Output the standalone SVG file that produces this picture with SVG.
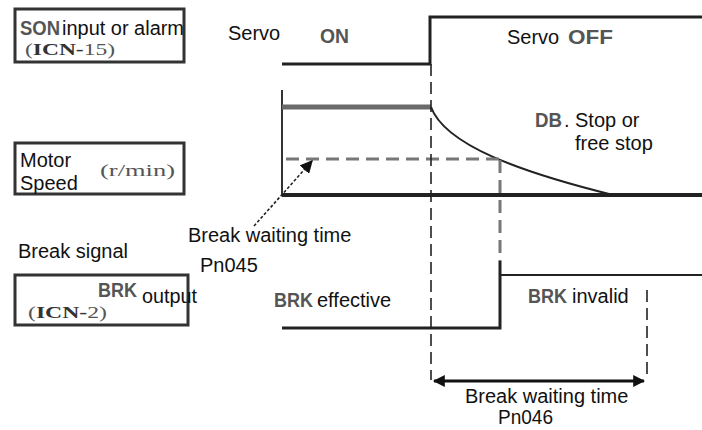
<svg xmlns="http://www.w3.org/2000/svg" width="702" height="430" viewBox="0 0 702 430">
<style>
.s{font-family:"Liberation Sans",Arial,sans-serif;font-size:20px;fill:#111}
.g{font-family:"Liberation Sans",Arial,sans-serif;font-size:20px;fill:#555;font-weight:bold}
.r{font-family:"Liberation Serif","Times New Roman",serif;font-size:16px;fill:#555}
.box{fill:none;stroke:#333;stroke-width:3}
.wave{fill:none;stroke:#222;stroke-width:3}
.thin{fill:none;stroke:#222;stroke-width:2}
.dash{fill:none;stroke:#222;stroke-width:1.6;stroke-dasharray:12 6}
.gdash{fill:none;stroke:#777;stroke-width:3;stroke-dasharray:13 7}
</style>
<defs>
<marker id="ah" viewBox="0 0 10 10" refX="9" refY="5" markerWidth="4" markerHeight="4" orient="auto-start-reverse" markerUnits="strokeWidth">
<path d="M0,0 L10,5 L0,10 z" fill="#111"/>
</marker>
<marker id="ah2" viewBox="0 0 10 10" refX="9" refY="5" markerWidth="8" markerHeight="8" orient="auto" markerUnits="strokeWidth">
<path d="M0,0 L10,5 L0,10 z" fill="#111"/>
</marker>
</defs>
<rect width="702" height="430" fill="#fff"/>

<g id="son-box">
<rect class="box" x="15" y="9" width="169" height="53"/>
<text class="g" x="20" y="35" textLength="40" lengthAdjust="spacingAndGlyphs">SON</text>
<text class="s" x="62" y="35" textLength="122" lengthAdjust="spacingAndGlyphs">input or alarm</text>
<text class="r" x="25" y="55" textLength="90" lengthAdjust="spacingAndGlyphs">(<tspan font-weight="bold" fill="#333">ICN-</tspan>15)</text>
</g>

<g id="speed-box">
<rect class="box" x="15" y="143" width="169" height="51"/>
<text class="s" x="20" y="167">Motor</text>
<text class="s" x="20" y="190">Speed</text>
<text class="r" x="100" y="176" font-size="15" textLength="75" lengthAdjust="spacingAndGlyphs">(r/min)</text>
</g>

<g id="brk-box">
<text class="s" x="18" y="258">Break signal</text>
<rect class="box" x="15" y="275" width="173" height="50"/>
<text class="g" x="98" y="297" textLength="39" lengthAdjust="spacingAndGlyphs">BRK</text>
<text class="s" x="142" y="303" textLength="55" lengthAdjust="spacingAndGlyphs">output</text>
<text class="r" x="28" y="318" textLength="79" lengthAdjust="spacingAndGlyphs">(<tspan font-weight="bold" fill="#333">ICN-</tspan>2)</text>
</g>

<g id="servo-signal">
<polyline class="wave" points="282,64 430,64 430,17 702,17"/>
<text class="s" x="228" y="40">Servo</text>
<text class="g" x="320" y="43" textLength="29" lengthAdjust="spacingAndGlyphs">ON</text>
<text class="s" x="507" y="44">Servo</text>
<text class="g" x="568" y="44" textLength="45" lengthAdjust="spacingAndGlyphs">OFF</text>
</g>

<g id="speed-signal">
<line x1="282" y1="90" x2="282" y2="196" stroke="#333" stroke-width="2"/>
<line x1="282" y1="107" x2="431" y2="107" stroke="#6a6a6a" stroke-width="5"/>
<line x1="282" y1="195" x2="702" y2="195" stroke="#222" stroke-width="4"/>
<path d="M431,107 C445,145 520,172 613,195" class="thin"/>
<line class="gdash" x1="286" y1="159" x2="500" y2="159"/>
<text class="g" x="535" y="127" textLength="27" lengthAdjust="spacingAndGlyphs">DB</text>
<text class="s" x="564" y="127">.</text>
<text class="s" x="575" y="127">Stop or</text>
<text class="s" x="575" y="150">free stop</text>
</g>

<g id="brk-signal">
<polyline class="wave" points="282,328 500,328 500,261"/>
<line x1="500" y1="275" x2="702" y2="275" stroke="#222" stroke-width="2"/>
<line class="gdash" x1="500" y1="160" x2="500" y2="261"/>
<text class="g" x="274" y="307" textLength="39" lengthAdjust="spacingAndGlyphs">BRK</text>
<text class="s" x="317" y="307">effective</text>
<text class="g" x="528" y="303" textLength="39" lengthAdjust="spacingAndGlyphs">BRK</text>
<text class="s" x="572" y="303">invalid</text>
</g>

<g id="connectors">
<line class="dash" x1="431" y1="64" x2="431" y2="380"/>
<line class="dash" x1="647" y1="290" x2="647" y2="380"/>
<line x1="434" y1="381" x2="644" y2="381" stroke="#111" stroke-width="3" marker-start="url(#ah)" marker-end="url(#ah)"/>
<line x1="254" y1="226" x2="312" y2="161" stroke="#222" stroke-width="1.6" stroke-dasharray="3 2" marker-end="url(#ah2)"/>
</g>

<g id="wait-labels">
<text class="s" x="188" y="242">Break waiting time</text>
<text class="s" x="200" y="272" fill="#444">Pn045</text>
<text class="s" x="465" y="403">Break waiting time</text>
<text class="s" x="498" y="424" font-size="18" fill="#444" textLength="55" lengthAdjust="spacingAndGlyphs">Pn046</text>
</g>
</svg>
